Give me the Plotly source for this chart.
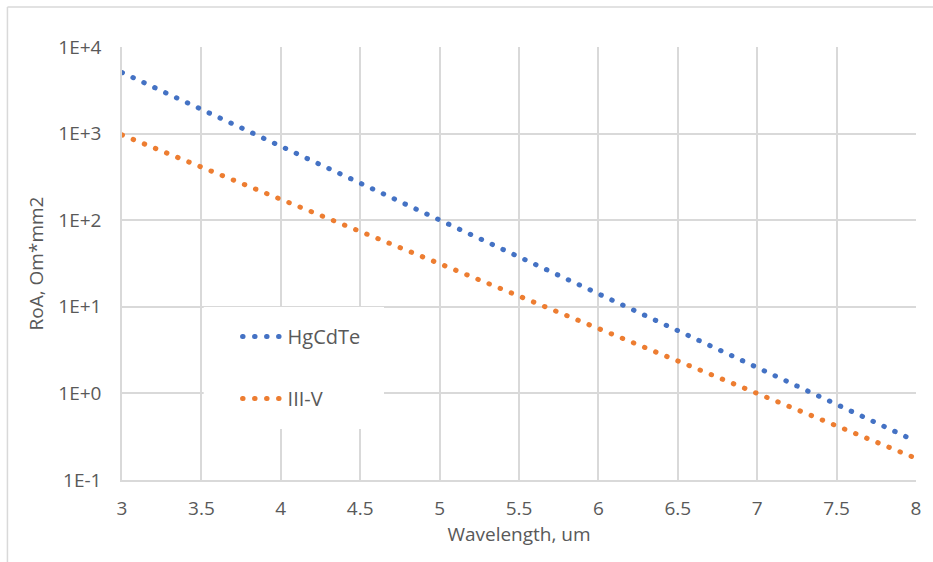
import plotly.graph_objects as go

wavelength = [3.0, 3.5, 4.0, 4.5, 5.0, 5.5, 6.0, 6.5, 7.0, 7.5, 8.0]
hgcdte = [5080, 1900, 713, 267, 100, 37.4, 14.0, 5.25, 1.97, 0.74, 0.28]
iii_v = [966, 407, 174, 74, 31.5, 13.3, 5.6, 2.4, 1.0, 0.42, 0.178]
y_tickvals = [0.1, 1, 10, 100, 1000, 10000]
y_ticktext = ["1E-1", "1E+0", "1E+1", "1E+2", "1E+3", "1E+4"]

FONT = "Open Sans"
TXT = "#595959"
GRID = "#d9d9d9"

fig = go.Figure()
fig.add_trace(go.Scatter(x=wavelength, y=hgcdte, name="HgCdTe", mode="lines",
                         legendgroup="a",
                         line=dict(color="#4472C4", width=5, dash="0.5px,11.5px")))
fig.add_trace(go.Scatter(x=wavelength, y=iii_v, name="III-V", mode="lines",
                         legendgroup="b",
                         line=dict(color="#ED7D31", width=5, dash="0.5px,11.5px")))

W, H = 933, 562
L, R, T, B = 122, 14, 47, 82
pw, ph = W - L - R, H - T - B

def px2x(p):
    return (p - L) / pw

def py2y(p):
    return 1 - (p - T) / ph

shapes = [
    # outer chart border (top and left visible)
    dict(type="line", xref="paper", yref="paper", x0=px2x(7), x1=px2x(940),
         y0=py2y(7), y1=py2y(7), line=dict(color=GRID, width=1.5)),
    dict(type="line", xref="paper", yref="paper", x0=px2x(7), x1=px2x(7),
         y0=py2y(7), y1=py2y(570), line=dict(color=GRID, width=1.5)),
    # legend box covering gridlines
    dict(type="rect", xref="paper", yref="paper", layer="above",
         x0=px2x(204), x1=px2x(385), y0=py2y(429), y1=py2y(307),
         fillcolor="white", line=dict(width=0)),
]

fig.update_layout(
    width=W, height=H,
    margin=dict(l=L, r=R, t=T, b=B),
    paper_bgcolor="white", plot_bgcolor="white",
    font=dict(family=FONT, size=19, color=TXT),
    showlegend=True,
    legend=dict(x=px2x(238), y=py2y(317), xanchor="left", yanchor="top",
                bgcolor="rgba(0,0,0,0)", font=dict(size=20, color=TXT),
                tracegroupgap=33, itemwidth=40),
    shapes=shapes,
    xaxis=dict(range=[3, 8], dtick=0.5, tick0=3, showgrid=True, gridcolor=GRID,
               gridwidth=1.5, showline=True, linecolor=GRID, linewidth=1.5,
               zeroline=False, ticks="", ticklabelstandoff=10,
               title=dict(text="Wavelength, um", font=dict(size=19, color=TXT), standoff=6)),
    yaxis=dict(type="log", range=[-1, 4], tickvals=y_tickvals, ticktext=y_ticktext,
               showgrid=True, gridcolor=GRID, gridwidth=1.5, showline=True,
               linecolor=GRID, linewidth=1.5, zeroline=False, ticks="",
               ticklabelstandoff=15,
               title=dict(text="RoA, Om*mm2", font=dict(size=19, color=TXT), standoff=10)),
)

post = """
document.body.style.margin = '0';
document.body.style.overflow = 'hidden';
var fix = function(){
  document.querySelectorAll('path.js-line').forEach(function(p){
    p.style.strokeLinecap = 'round';
  });
};
fix();
var gd = document.getElementsByClassName('plotly-graph-div')[0];
if (gd && gd.on) { gd.on('plotly_afterplot', fix); }
"""

fig.write_html("out.html", post_script=post, config={"displayModeBar": False})
